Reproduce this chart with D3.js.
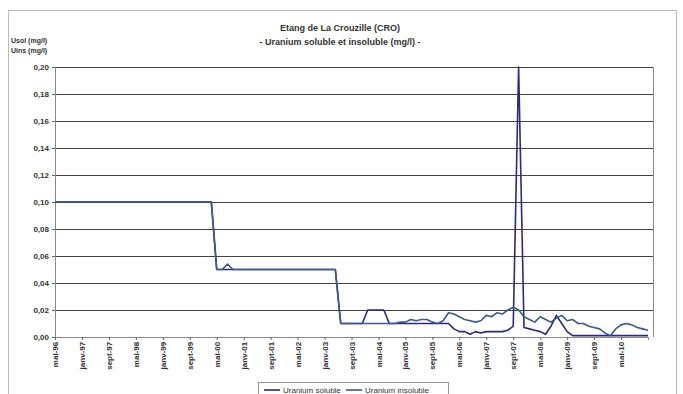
<!DOCTYPE html>
<html lang="fr">
<head>
<meta charset="UTF-8">
<title>Etang de La Crouzille</title>
<style>
  body { margin: 0; background: #fff; }
  text { font-family: "Liberation Sans", Arial, sans-serif; fill: #333; }
</style>
</head>
<body>
<svg id="svg" width="683" height="394"></svg>
<script src="https://d3js.org/d3.v7.min.js"></script>
<script>
// one label every 5 samples
const tickLabels = ["mai-96", "janv-97", "sept-97", "mai-98", "janv-99", "sept-99", "mai-00", "janv-01",
  "sept-01", "mai-02", "janv-03", "sept-03", "mai-04", "janv-05", "sept-05", "mai-06",
  "janv-07", "sept-07", "mai-08", "janv-09", "sept-09", "mai-10"]

const yTicks = [0, 0.02, 0.04, 0.06, 0.08, 0.10, 0.12, 0.14, 0.16, 0.18, 0.20]

const soluble = [
  0.10, 0.10, 0.10, 0.10, 0.10, 0.10, 0.10, 0.10, 0.10, 0.10,
  0.10, 0.10, 0.10, 0.10, 0.10, 0.10, 0.10, 0.10, 0.10, 0.10,
  0.10, 0.10, 0.10, 0.10, 0.10, 0.10, 0.10, 0.10, 0.10, 0.10,
  0.05, 0.05, 0.05, 0.05, 0.05, 0.05, 0.05, 0.05, 0.05, 0.05,
  0.05, 0.05, 0.05, 0.05, 0.05, 0.05, 0.05, 0.05, 0.05, 0.05,
  0.05, 0.05, 0.05, 0.01, 0.01, 0.01, 0.01, 0.01, 0.02, 0.02,
  0.02, 0.02, 0.01, 0.01, 0.01, 0.01, 0.01, 0.01, 0.01, 0.01,
  0.01, 0.01, 0.01, 0.01, 0.006, 0.004, 0.004, 0.002, 0.004, 0.003,
  0.004, 0.004, 0.004, 0.004, 0.005, 0.008, 0.20, 0.007, 0.006, 0.005,
  0.004, 0.002, 0.008, 0.016, 0.010, 0.004, 0.001, 0.001, 0.001, 0.001,
  0.001, 0.001, 0.001, 0.001, 0.001, 0.001, 0.001, 0.001, 0.001, 0.001,
  0.001
]

const insoluble = [
  0.10, 0.10, 0.10, 0.10, 0.10, 0.10, 0.10, 0.10, 0.10, 0.10,
  0.10, 0.10, 0.10, 0.10, 0.10, 0.10, 0.10, 0.10, 0.10, 0.10,
  0.10, 0.10, 0.10, 0.10, 0.10, 0.10, 0.10, 0.10, 0.10, 0.10,
  0.05, 0.05, 0.054, 0.05, 0.05, 0.05, 0.05, 0.05, 0.05, 0.05,
  0.05, 0.05, 0.05, 0.05, 0.05, 0.05, 0.05, 0.05, 0.05, 0.05,
  0.05, 0.05, 0.05, 0.01, 0.01, 0.01, 0.01, 0.01, 0.01, 0.01,
  0.01, 0.01, 0.01, 0.01, 0.011, 0.011, 0.013, 0.012, 0.013, 0.013,
  0.011, 0.010, 0.012, 0.018, 0.017, 0.015, 0.013, 0.012, 0.011, 0.012,
  0.016, 0.015, 0.018, 0.017, 0.020, 0.022, 0.020, 0.015, 0.013, 0.011,
  0.015, 0.013, 0.011, 0.014, 0.016, 0.012, 0.013, 0.010, 0.010, 0.008,
  0.007, 0.006, 0.003, 0.001, 0.006, 0.009, 0.010, 0.009, 0.007, 0.006,
  0.005
]

const svg = d3.select('#svg')

// chart area frame
svg.append('rect')
  .attr('x', 8.5).attr('y', 10.5)
  .attr('width', 668).attr('height', 400)
  .attr('fill', 'none')
  .attr('stroke', '#bbb')

const x = d3.scaleLinear().domain([0, soluble.length - 1]).range([55, 648])
const y = d3.scaleLinear().domain([0, 0.2]).range([337, 67])

// gridlines
svg.append('g')
  .selectAll('line')
  .data(yTicks.slice(1))
  .join('line')
  .attr('x1', 55).attr('x2', 653)
  .attr('y1', d => Math.round(y(d)) + 0.5)
  .attr('y2', d => Math.round(y(d)) + 0.5)
  .attr('stroke', '#444')
  .attr('stroke-width', 1)

// right border of plot
svg.append('line')
  .attr('x1', 653.5).attr('x2', 653.5)
  .attr('y1', y(0.2)).attr('y2', y(0))
  .attr('stroke', '#888')

// y axis
const fmt = d => d.toFixed(2).replace('.', ',')
svg.append('g')
  .attr('transform', 'translate(55,0)')
  .call(d3.axisLeft(y).tickValues(yTicks).tickFormat(fmt).tickSize(3))
  .call(g => g.select('.domain').attr('stroke', '#888'))
  .call(g => g.selectAll('.tick line').attr('stroke', '#666'))
  .call(g => g.selectAll('text')
    .attr('font-size', 8).attr('font-weight', 'bold').attr('fill', '#444'))

// x axis (one label every 5 samples)
const xTickVals = tickLabels.map((d, i) => i * 5)
svg.append('g')
  .attr('transform', `translate(0,${y(0)})`)
  .call(d3.axisBottom(x).tickValues(xTickVals).tickFormat((d, i) => tickLabels[i]).tickSize(3))
  .call(g => g.select('.domain').attr('stroke', '#888'))
  .call(g => g.selectAll('.tick line').attr('stroke', '#666'))
  .call(g => g.selectAll('text')
    .attr('font-size', 8).attr('font-weight', 'bold').attr('fill', '#444')
    .attr('transform', 'rotate(-90)')
    .attr('text-anchor', 'end')
    .attr('dx', '-0.6em').attr('dy', '0.32em')
    .attr('x', 0).attr('y', 0))

// lines
const line = d3.line().x((d, i) => x(i)).y(d => y(d))
const series = [
  { name: 'Uranium soluble', values: soluble, color: '#2b2b7c' },
  { name: 'Uranium insoluble', values: insoluble, color: '#3d5b88' }
]
svg.append('g')
  .selectAll('path')
  .data(series)
  .join('path')
  .attr('d', d => line(d.values))
  .attr('fill', 'none')
  .attr('stroke', d => d.color)
  .attr('stroke-width', 1.6)
  .attr('stroke-linejoin', 'round')

// titles
svg.append('text')
  .attr('x', 340).attr('y', 31)
  .attr('text-anchor', 'middle')
  .attr('font-size', 9).attr('font-weight', 'bold')
  .text('Etang de La Crouzille (CRO)')
svg.append('text')
  .attr('x', 340).attr('y', 45)
  .attr('text-anchor', 'middle')
  .attr('font-size', 9).attr('font-weight', 'bold')
  .text('- Uranium soluble et insoluble (mg/l) -')

svg.append('text')
  .attr('x', 11).attr('y', 43)
  .attr('font-size', 7).attr('font-weight', 'bold')
  .text('Usol (mg/l)')
svg.append('text')
  .attr('x', 11).attr('y', 53)
  .attr('font-size', 7).attr('font-weight', 'bold')
  .text('Uins (mg/l)')

// legend
const legend = svg.append('g').attr('transform', 'translate(258,382)')
legend.append('rect')
  .attr('x', 0.5).attr('y', 0.5)
  .attr('width', 190).attr('height', 16)
  .attr('fill', '#fff').attr('stroke', '#999')
const items = legend.selectAll('g.item')
  .data(series)
  .join('g')
  .attr('class', 'item')
  .attr('transform', (d, i) => `translate(${i === 0 ? 6 : 88},0)`)
items.append('line')
  .attr('x1', 0).attr('x2', 16)
  .attr('y1', 8).attr('y2', 8)
  .attr('stroke', d => d.color)
  .attr('stroke-width', 1.6)
items.append('text')
  .attr('x', 19).attr('y', 11)
  .attr('font-size', 8)
  .text(d => d.name)
</script>
</body>
</html>
